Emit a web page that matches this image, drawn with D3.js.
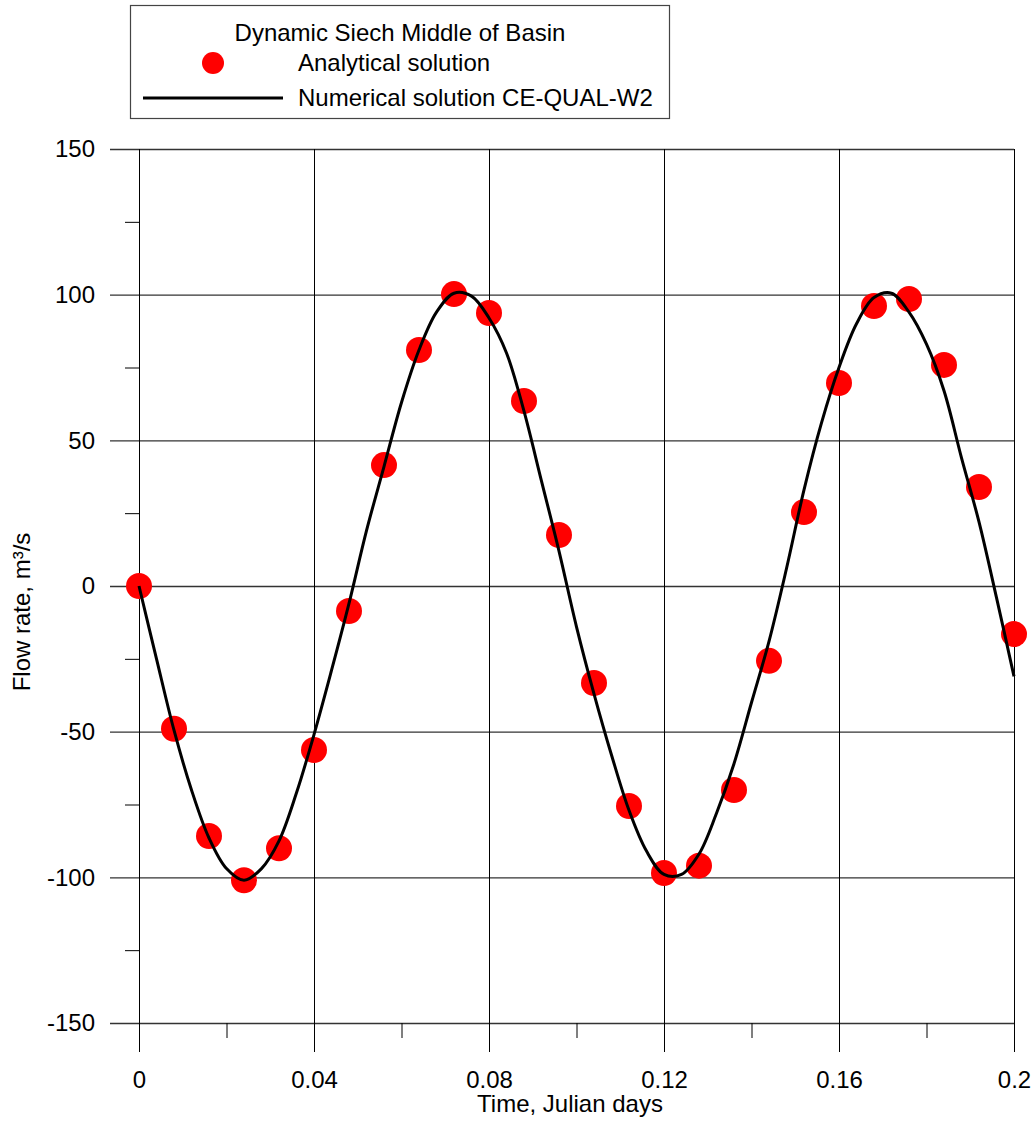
<!DOCTYPE html>
<html>
<head>
<meta charset="utf-8">
<script src="https://cdn.jsdelivr.net/npm/d3@7"></script>
<style>
  html, body { margin: 0; padding: 0; background: #fff; }
  svg { display: block; font-family: Arial, "Liberation Sans", Helvetica, sans-serif; }
</style>
</head>
<body>
<svg id="chart" width="1034" height="1124"></svg>
<script>
// Analytical solution, sampled every 0.008 Julian days
const analyticalTime = [0, 0.008, 0.016, 0.024, 0.032, 0.040, 0.048, 0.056, 0.064, 0.072,
  0.080, 0.088, 0.096, 0.104, 0.112, 0.120, 0.128, 0.136, 0.144, 0.152,
  0.160, 0.168, 0.176, 0.184, 0.192, 0.200];
const analyticalFlow = [0, -49, -85.8, -101, -90, -56.3, -8.6, 41.5, 81, 100.2,
  93.7, 63.5, 17.5, -33.3, -75.5, -98.5, -96, -70, -25.7, 25.4,
  69.7, 96.1, 98.5, 75.9, 34, -16.5];

// CE-QUAL-W2 numerical solution, output every 0.004 Julian days
const numericalTime = [0, 0.004, 0.008, 0.012, 0.016, 0.020, 0.024, 0.028, 0.032, 0.036,
  0.040, 0.044, 0.048, 0.052, 0.056, 0.060, 0.064, 0.068, 0.072, 0.076,
  0.080, 0.084, 0.088, 0.092, 0.096, 0.100, 0.104, 0.108, 0.112, 0.116,
  0.120, 0.124, 0.128, 0.132, 0.136, 0.140, 0.144, 0.148, 0.152, 0.156,
  0.160, 0.164, 0.168, 0.172, 0.176, 0.180, 0.184, 0.188, 0.192, 0.196, 0.200];
const numericalFlow = [0, -25, -49.5, -70, -86.5, -97, -101, -97, -87.5, -71,
  -51, -29, -6, 19, 41, 63, 81, 94, 100.5, 99.5,
  92, 80, 60, 36, 12, -14, -37, -58, -77, -91,
  -99, -99, -92, -78, -61, -40, -19, 6, 33, 56,
  75, 90, 99, 100.5, 94, 83, 67, 44, 22, -4, -31];

// Axis ticks
const xMajorTicks = [0, 0.04, 0.08, 0.12, 0.16, 0.2];
const xMinorTicks = [0.02, 0.06, 0.10, 0.14, 0.18];
const yMajorTicks = [-150, -100, -50, 0, 50, 100, 150];
const yMinorTicks = [-125, -75, -25, 25, 75, 125];

const legendTitle = "Dynamic Siech Middle of Basin";
const legendLabels = ["Analytical solution", "Numerical solution CE-QUAL-W2"];
const xTitle = "Time, Julian days";
const yTitle = "Flow rate, m³/s";

const svg = d3.select("#chart");
const plotLeft = 139, plotRight = 1014, plotTop = 149, plotBottom = 1023;
const majorLen = 29, minorLen = 14;
const fontSize = 24;
const fontFamily = "Arial, 'Liberation Sans', sans-serif";

const x = d3.scaleLinear().domain([0, 0.2]).range([plotLeft, plotRight]);
const y = d3.scaleLinear().domain([-150, 150]).range([plotBottom, plotTop]);

// Horizontal grid lines doubling as major y ticks
const gy = svg.append("g")
  .attr("transform", `translate(${plotLeft - majorLen},0)`)
  .call(d3.axisLeft(y).tickValues(yMajorTicks).tickFormat(d => String(d))
    .tickSize(-(plotRight - plotLeft + majorLen)).tickPadding(15));
gy.select(".domain").remove();
gy.selectAll(".tick line").attr("stroke", "#333").attr("stroke-width", 1.3);
gy.selectAll(".tick text").attr("font-size", fontSize).attr("fill", "#000")
  .attr("font-family", fontFamily);

// Vertical grid lines doubling as major x ticks
const gx = svg.append("g")
  .attr("transform", `translate(0,${plotBottom + majorLen})`)
  .call(d3.axisBottom(x).tickValues(xMajorTicks).tickFormat(d => d === 0 ? "0" : String(+d.toFixed(2)))
    .tickSize(-(plotBottom - plotTop + majorLen)).tickPadding(19));
gx.select(".domain").remove();
gx.selectAll(".tick line").attr("stroke", "#000").attr("stroke-width", 1);
gx.selectAll(".tick text").attr("font-size", fontSize).attr("fill", "#000")
  .attr("font-family", fontFamily);

// Minor ticks
const gyMinor = svg.append("g")
  .attr("transform", `translate(${plotLeft},0)`)
  .call(d3.axisLeft(y).tickValues(yMinorTicks).tickFormat("").tickSize(minorLen));
gyMinor.select(".domain").remove();
gyMinor.selectAll(".tick line").attr("stroke", "#000");

const gxMinor = svg.append("g")
  .attr("transform", `translate(0,${plotBottom})`)
  .call(d3.axisBottom(x).tickValues(xMinorTicks).tickFormat("").tickSize(minorLen + 1));
gxMinor.select(".domain").remove();
gxMinor.selectAll(".tick line").attr("stroke", "#000");

// Analytical points
svg.append("g").selectAll("circle")
  .data(analyticalTime.map((t, i) => [t, analyticalFlow[i]]))
  .join("circle")
  .attr("cx", d => x(d[0]))
  .attr("cy", d => y(d[1]))
  .attr("r", 13)
  .attr("fill", "#ff0000");

// Numerical solution curve
const line = d3.line().x(d => x(d[0])).y(d => y(d[1])).curve(d3.curveCatmullRom.alpha(0.5));
svg.append("path")
  .datum(numericalTime.map((t, i) => [t, numericalFlow[i]]))
  .attr("d", line)
  .attr("fill", "none")
  .attr("stroke", "#000")
  .attr("stroke-width", 3);

// Axis titles
svg.append("text")
  .attr("x", 570)
  .attr("y", 1112)
  .attr("text-anchor", "middle")
  .attr("font-size", fontSize)
  .attr("font-family", fontFamily)
  .text(xTitle);

svg.append("text")
  .attr("transform", "translate(30,612) rotate(-90)")
  .attr("text-anchor", "middle")
  .attr("font-size", fontSize)
  .attr("font-family", fontFamily)
  .text(yTitle);

// Legend
const legend = svg.append("g").attr("font-family", fontFamily).attr("font-size", fontSize);
legend.append("rect")
  .attr("x", 130.5).attr("y", 5.5)
  .attr("width", 539).attr("height", 113)
  .attr("fill", "#fff").attr("stroke", "#444").attr("stroke-width", 1.2);
legend.append("text")
  .attr("x", 400).attr("y", 41)
  .attr("text-anchor", "middle")
  .text(legendTitle);
legend.append("circle")
  .attr("cx", 213).attr("cy", 63).attr("r", 11).attr("fill", "#ff0000");
legend.append("text")
  .attr("x", 298).attr("y", 71)
  .text(legendLabels[0]);
legend.append("line")
  .attr("x1", 143).attr("x2", 283).attr("y1", 98).attr("y2", 98)
  .attr("stroke", "#000").attr("stroke-width", 3);
legend.append("text")
  .attr("x", 298).attr("y", 106)
  .text(legendLabels[1]);
</script>
</body>
</html>
